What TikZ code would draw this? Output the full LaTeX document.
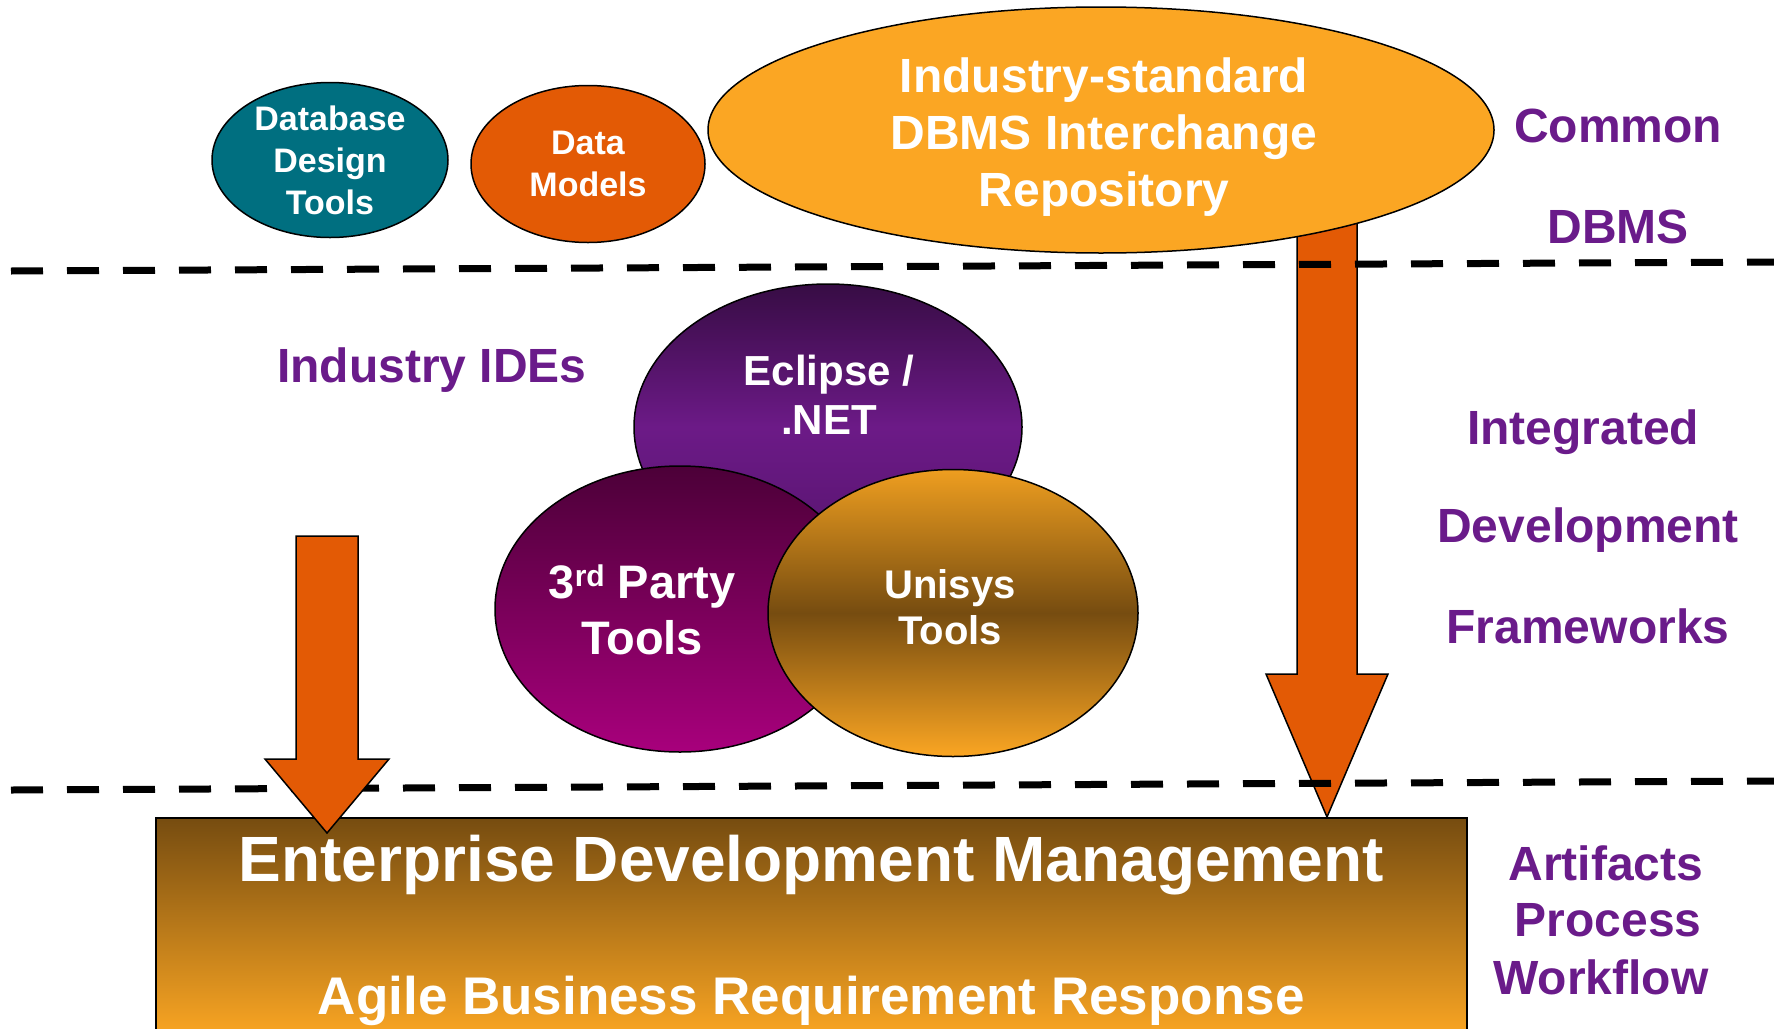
\documentclass[tikz,border=0pt]{standalone}
\usepackage{fontspec}
\setmainfont{Liberation Sans}
\usetikzlibrary{shapes.geometric, calc, backgrounds}

\definecolor{ddtteal}{RGB}{0,111,128}
\definecolor{burnt}{RGB}{227,90,5}
\definecolor{amber}{RGB}{251,166,35}
\definecolor{unitop}{RGB}{238,158,32}
\definecolor{ideviolet}{RGB}{106,27,138}
\definecolor{eclipsetop}{RGB}{55,12,68}
\definecolor{eclipsemid}{RGB}{108,26,135}
\definecolor{eclipsebot}{RGB}{85,20,108}
\definecolor{partytop}{RGB}{76,0,56}
\definecolor{partybot}{RGB}{168,0,124}
\definecolor{bronze}{RGB}{118,76,16}

\begin{document}
\begin{tikzpicture}[x=1pt, y=-1pt]
\tikzstyle{blob} = [ellipse, draw=black, line width=1.5pt, inner sep=0pt, text=white, align=center]
\tikzstyle{blobtext} = [text=white, align=center, inner sep=0pt]
\tikzstyle{side} = [text=ideviolet, inner sep=0pt, font=\fontsize{48}{57}\selectfont\bfseries]
\tikzstyle{sepline} = [line width=7pt, dash pattern=on 32pt off 24pt]
\tikzstyle{blockarrow} = [draw=black, line width=1.5pt, fill=burnt, line join=miter]

\useasboundingbox (0,0) rectangle (1774,1028);

\node (ddt) [blob, fill=ddtteal, minimum width=236, minimum height=155,
  font=\fontsize{34}{42}\selectfont\bfseries] at (330,160) {Database\\Design\\Tools};
\node (dm) [blob, fill=burnt, minimum width=234, minimum height=157,
  font=\fontsize{34}{42}\selectfont\bfseries] at (588,164) {Data\\Models};
\node (repo) [blob, fill=amber, minimum width=786, minimum height=246] at (1101,130) {};
\node (repotxt) [blobtext, font=\fontsize{48}{57}\selectfont\bfseries] at (1104,137)
  {Industry-standard\\DBMS Interchange\\Repository};

\node (eclipse) [blob, top color=eclipsetop, bottom color=eclipsebot, middle color=eclipsemid,
  minimum width=388, minimum height=286] at (828,427) {};
\node (party) [blob, top color=partytop, bottom color=partybot,
  minimum width=370, minimum height=286] at (680,609) {};
\node (unisys) [blob, top color=unitop, bottom color=amber, middle color=bronze,
  minimum width=370, minimum height=287] at (953,613) {};
\node (eclipsetxt) [blobtext, font=\fontsize{42}{49}\selectfont\bfseries] at (829,395) {Eclipse /\\.NET};
\node (partytxt) [blobtext, font=\fontsize{47}{56}\selectfont\bfseries] at (642,610)
  {3\raisebox{12pt}{\fontsize{30}{30}\selectfont rd} Party\\Tools};
\node (unisystxt) [blobtext, font=\fontsize{40}{46}\selectfont\bfseries] at (950,607) {Unisys\\Tools};

\node (edm) [draw=black, line width=1.5pt, top color=bronze, bottom color=amber, inner sep=0pt,
  minimum width=1311, minimum height=220, anchor=north west] at (155,817) {};
\node (edmtxt) [anchor=base, text=white, inner sep=0pt, font=\fontsize{64}{70}\selectfont\bfseries]
  at ($(edm.north)+(0,64)$) {Enterprise Development Management};
\node (agile) [anchor=base, text=white, inner sep=0pt, font=\fontsize{53}{60}\selectfont\bfseries]
  at ($(edm.north)+(0,197)$) {Agile Business Requirement Response};

\node (ides) [side] at (432,370) {Industry IDEs};
\node (common) [side] at (1618,126) {Common};
\node (cdbms) [side, node distance=101pt, below of=common] {DBMS};
\node (integ) [side] at (1583,432) {Integrated};
\node (devel) [side, node distance=98pt, below of=integ, xshift=5pt] {Development};
\node (frame) [side, node distance=96pt, below of=devel] {Frameworks};
\node (artif) [side] at (1606,863) {Artifacts};
\node (proc) [side, node distance=57pt, below of=artif, xshift=2pt] {Process};
\node (wflow) [side, node distance=57pt, below of=proc, xshift=-7pt] {Workflow};

\coordinate (rtop) at ($(repo.center)+(226,0)$);
\coordinate (rtip) at (edm.north -| rtop);
\begin{scope}[on background layer]
\draw [blockarrow] ($(rtop)+(-30,0)$) -- ($(rtip)+(-30,-143)$) -- ($(rtip)+(-61,-143)$) -- (rtip)
  -- ($(rtip)+(61,-143)$) -- ($(rtip)+(30,-143)$) -- ($(rtop)+(30,0)$) -- cycle;
\end{scope}

\draw [sepline] (11,271) -- (1774,262);
\draw [sepline] (11,790) -- (1774,781);

\coordinate (ltop) at (327,536);
\coordinate (ltip) at ($(edm.north -| ltop)+(0,16)$);
\draw [blockarrow] ($(ltop)+(-31,0)$) -- ($(ltip)+(-31,-74)$) -- ($(ltip)+(-62,-74)$) -- (ltip)
  -- ($(ltip)+(62,-74)$) -- ($(ltip)+(31,-74)$) -- ($(ltop)+(31,0)$) -- cycle;
\end{tikzpicture}
\end{document}
